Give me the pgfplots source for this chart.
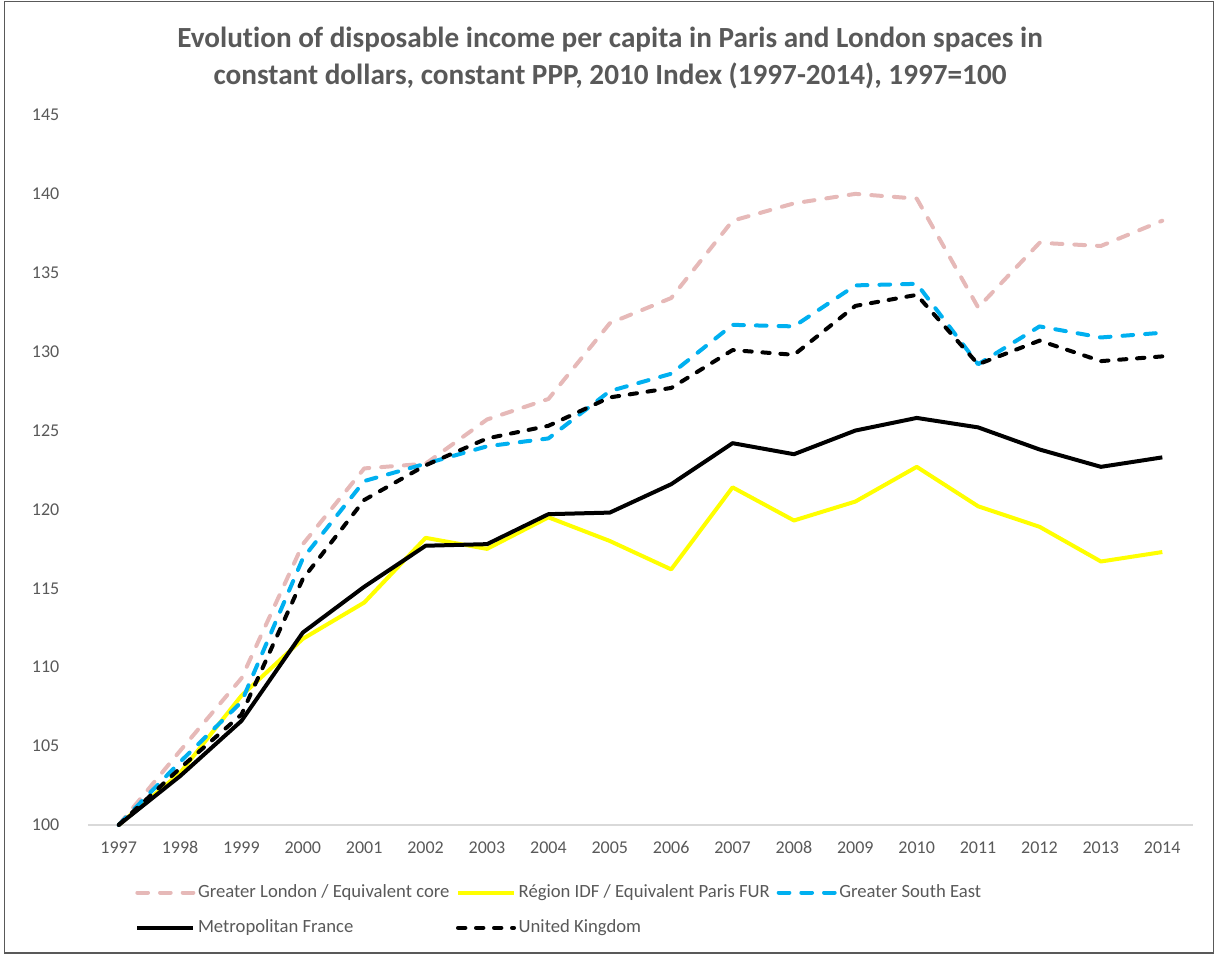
\documentclass[border=0pt]{standalone}
\usepackage{pgfplots}
\pgfplotsset{compat=1.18}
\usepackage{fontspec}
\setmainfont[Ligatures=NoCommon, Numbers=Lining]{Carlito}
\definecolor{txt}{HTML}{595959}
\definecolor{pinkl}{HTML}{E6B9B8}
\definecolor{bluel}{HTML}{00B0F0}
\definecolor{yell}{HTML}{FFFF00}
\begin{document}
\begin{tikzpicture}[x=1pt,y=1pt]
\path (0,0) rectangle (912,716.25);
\draw[black!65, line width=1pt] (3.5,1.5) rectangle (910,715);
\node[align=center, text=txt, font=\fontsize{21.9}{27.75}\selectfont\bfseries] at (457.5,673)
 {Evolution of disposable income per capita in Paris and London spaces in\\constant dollars, constant PPP, 2010 Index (1997-2014), 1997=100};
\begin{axis}[
  at={(66pt,97.5pt)}, anchor=south west,
  scale only axis, width=828.75pt, height=532.5pt,
  xmin=1996.5, xmax=2014.5, ymin=100, ymax=145,
  xtick={1997,...,2014}, ytick={100,105,...,145},
  axis lines*=left,
  x axis line style={draw=black!15, line width=0.9pt},
  y axis line style={draw=none},
  major tick length=0pt,
  clip=false,
  /pgf/number format/assume math mode=true,
  /pgf/number format/1000 sep={},
  ticklabel style={font=\fontsize{13.5}{16}\selectfont, text=txt},
  yticklabel style={xshift=-18pt},
  xticklabel style={anchor=north, text height=9pt, text depth=0pt, yshift=-8.5pt},
  legend columns=3,
  legend cell align=left,
  legend style={draw=none, fill=none, at={(axis description cs:0.039,-0.075)}, anchor=north west,
     font=\fontsize{14}{16}\selectfont, text=txt, column sep=0pt, row sep=9.5pt,
     nodes={text height=10pt, text depth=3pt, inner xsep=2pt}},
  legend image code/.code={\draw[#1] (0pt,0pt) -- (42pt,0pt);},
  every axis plot/.append style={line width=3pt, line join=round},
]
\addplot[pinkl, dash pattern=on 8pt off 9pt, line cap=round] coordinates {
(1997,100) (1998,104.7) (1999,109.3) (2000,117.8) (2001,122.6) (2002,122.9) (2003,125.7) (2004,127.0) (2005,131.8) (2006,133.4) (2007,138.3) (2008,139.4) (2009,140.0) (2010,139.7) (2011,132.8) (2012,136.9) (2013,136.7) (2014,138.3)};
\addlegendentry{\makebox[191.5pt][l]{Greater London / Equivalent core}}
\addplot[yell] coordinates {
(1997,100) (1998,103.3) (1999,108.2) (2000,111.8) (2001,114.1) (2002,118.2) (2003,117.5) (2004,119.5) (2005,118.0) (2006,116.2) (2007,121.4) (2008,119.3) (2009,120.5) (2010,122.7) (2011,120.2) (2012,118.9) (2013,116.7) (2014,117.3)};
\addlegendentry{\makebox[191.5pt][l]{Région IDF / Equivalent Paris FUR}}
\addplot[bluel, dash pattern=on 8pt off 9pt, line cap=round] coordinates {
(1997,100) (1998,104.0) (1999,107.8) (2000,116.9) (2001,121.8) (2002,122.9) (2003,124.0) (2004,124.5) (2005,127.5) (2006,128.6) (2007,131.7) (2008,131.6) (2009,134.2) (2010,134.3) (2011,129.2) (2012,131.6) (2013,130.9) (2014,131.2)};
\addlegendentry{\makebox[191.5pt][l]{Greater South East}}
\addplot[black] coordinates {
(1997,100) (1998,103.1) (1999,106.6) (2000,112.2) (2001,115.1) (2002,117.7) (2003,117.8) (2004,119.7) (2005,119.8) (2006,121.6) (2007,124.2) (2008,123.5) (2009,125.0) (2010,125.8) (2011,125.2) (2012,123.8) (2013,122.7) (2014,123.3)};
\addlegendentry{\makebox[191.5pt][l]{Metropolitan France}}
\addplot[black, dash pattern=on 5.5pt off 8pt, line cap=round] coordinates {
(1997,100) (1998,103.6) (1999,107.0) (2000,115.6) (2001,120.6) (2002,122.8) (2003,124.5) (2004,125.3) (2005,127.1) (2006,127.7) (2007,130.1) (2008,129.8) (2009,132.9) (2010,133.6) (2011,129.2) (2012,130.7) (2013,129.4) (2014,129.7)};
\addlegendentry{\makebox[191.5pt][l]{United Kingdom}}
\end{axis}
\end{tikzpicture}
\end{document}
